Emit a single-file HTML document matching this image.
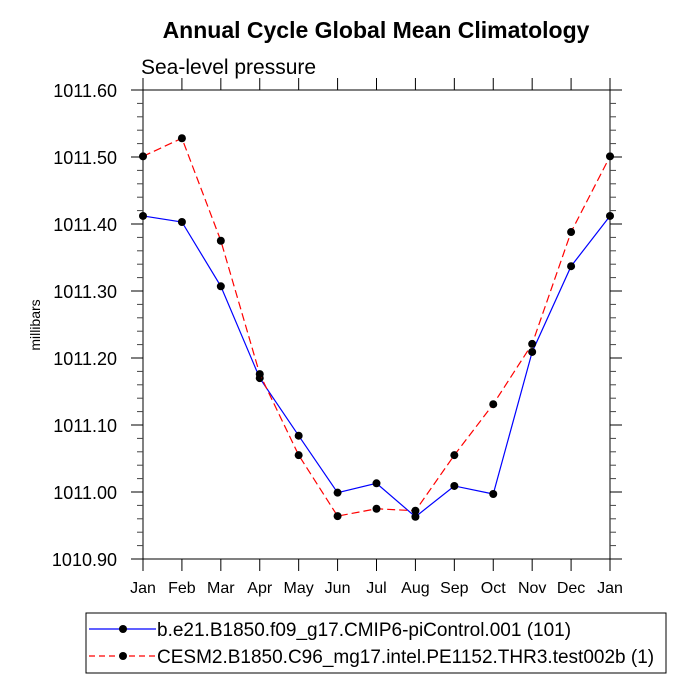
<!DOCTYPE html>
<html><head><meta charset="utf-8"><style>
body{margin:0;background:#fff;font-family:"Liberation Sans",sans-serif;}
</style></head><body>
<svg id="chart" width="694" height="694" xmlns="http://www.w3.org/2000/svg" font-family="Liberation Sans, sans-serif">
<text x="376" y="38" text-anchor="middle" font-size="23" font-weight="bold">Annual Cycle Global Mean Climatology</text>
<text x="141" y="74" font-size="21">Sea-level pressure</text>
<text transform="translate(40,325) rotate(-90)" text-anchor="middle" font-size="14">millibars</text>
<rect x="143" y="90" width="467" height="469" fill="none" stroke="#000" stroke-width="1"/>
<g id="ticks"></g>
<g id="series"></g>
<g>
<rect x="86" y="613" width="580" height="60" fill="#fff" stroke="#000"/>
<g>
<line x1="89" y1="629" x2="156" y2="629" stroke="#0000ff" stroke-width="1.2"/>
<circle cx="123" cy="629" r="4" fill="#000"/>
<text x="157" y="636" font-size="19">b.e21.B1850.f09_g17.CMIP6-piControl.001 (101)</text>
</g>
<g>
<line x1="89" y1="656" x2="156" y2="656" stroke="#ff0000" stroke-width="1.2" stroke-dasharray="6,4"/>
<circle cx="123" cy="656" r="4" fill="#000"/>
<text x="157" y="663" font-size="19">CESM2.B1850.C96_mg17.intel.PE1152.THR3.test002b (1)</text>
</g>
</g>
</svg>
<script>
const months=["Jan","Feb","Mar","Apr","May","Jun","Jul","Aug","Sep","Oct","Nov","Dec","Jan"];
const yTicks=[1010.90,1011.00,1011.10,1011.20,1011.30,1011.40,1011.50,1011.60];
const blueValues=[1011.412,1011.403,1011.307,1011.170,1011.084,1010.999,1011.013,1010.963,1011.009,1010.997,1011.209,1011.337,1011.412];
const redValues=[1011.501,1011.528,1011.375,1011.176,1011.055,1010.964,1010.975,1010.972,1011.055,1011.131,1011.221,1011.388,1011.501];
const NS="http://www.w3.org/2000/svg";
const X0=143,X1=610,Y0=559,Y1=90,VMIN=1010.9,VMAX=1011.6;
const xs=i=>X0+(X1-X0)*i/(months.length-1);
const ys=v=>Y0-(v-VMIN)/(VMAX-VMIN)*(Y0-Y1);
const tg=document.getElementById('ticks');
function mk(tag,attrs,parent){const e=document.createElementNS(NS,tag);for(const k in attrs)e.setAttribute(k,attrs[k]);parent.appendChild(e);return e;}
months.forEach((m,i)=>{
  const x=xs(i);
  const t1=mk('line',{x1:x,y1:Y0,x2:x,y2:Y0+12,stroke:'#000'},tg);
  
  
  const t2=mk('line',{x1:x,y1:Y1,x2:x,y2:Y1-12,stroke:'#000'},tg);
  
  
  const lb=mk('text',{x:x,y:Y0+34,'text-anchor':'middle','font-size':'16'},tg);
  lb.textContent=m;
  
  
});
yTicks.forEach((v,k)=>{
  const y=ys(v);
  const t1=mk('line',{x1:X0-12,y1:y,x2:X0,y2:y,stroke:'#000'},tg);
  
  
  const t2=mk('line',{x1:X1,y1:y,x2:X1+12,y2:y,stroke:'#000'},tg);
  
  
  if(k<yTicks.length-1){
    for(let j=1;j<5;j++){
      const ym=ys(v+0.02*j);
      const m1=mk('line',{x1:X0-6,y1:ym,x2:X0,y2:ym,stroke:'#444'},tg);
      
      
      const m2=mk('line',{x1:X1,y1:ym,x2:X1+6,y2:ym,stroke:'#444'},tg);
      
      
    }
  }
  const lb=mk('text',{x:117,y:y+7,'text-anchor':'end','font-size':'18'},tg);
  lb.textContent=v.toFixed(2);
  
  
});
const sg=document.getElementById('series');
function drawSeries(vals,color,dash,name){
  const pts=vals.map((v,i)=>xs(i)+','+ys(v)).join(' ');
  const pl=mk('polyline',{points:pts,fill:'none',stroke:color,'stroke-width':'1.2'},sg);
  if(dash)pl.setAttribute('stroke-dasharray',dash);
  
  
  vals.forEach((v,i)=>{
    const c=mk('circle',{cx:xs(i),cy:ys(v),r:4,fill:'#000'},sg);
    
    
  });
}
drawSeries(blueValues,'#0000ff',null,'picontrol-series');
drawSeries(redValues,'#ff0000','8,4','test002b-series');
</script>
</body></html>
